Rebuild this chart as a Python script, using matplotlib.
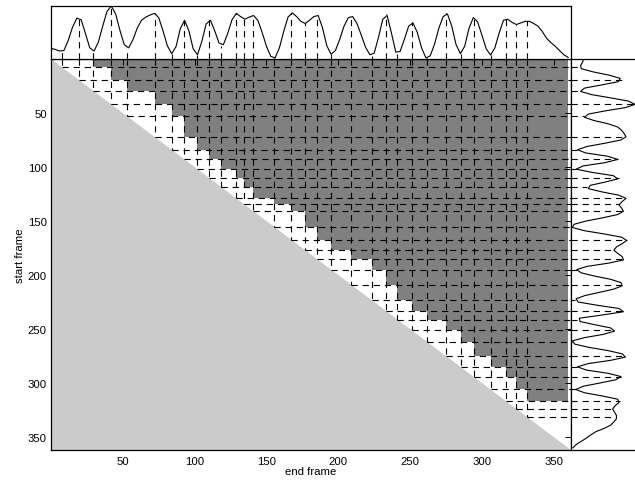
import numpy as np
import matplotlib
matplotlib.use('Agg')
import matplotlib.pyplot as plt
from matplotlib.colors import ListedColormap

plt.rcParams['font.family'] = ['Liberation Sans', 'DejaVu Sans']
plt.rcParams['font.size'] = 8.2
plt.rcParams['lines.scale_dashes'] = False

# novelty curve, sampled every 3 frames (0..360)
frames = np.arange(0, 361, 3)
novelty = [0.20, 0.18, 0.15, 0.16, 0.35, 0.60, 0.77, 0.74, 0.48, 0.21,
           0.15, 0.32, 0.62, 0.90, 1.00, 0.85, 0.54, 0.27, 0.21, 0.36,
           0.58, 0.73, 0.79, 0.83, 0.86, 0.78, 0.53, 0.25, 0.10, 0.23,
           0.57, 0.73, 0.53, 0.19, 0.08, 0.33, 0.66, 0.73, 0.53, 0.30,
           0.27, 0.48, 0.74, 0.86, 0.80, 0.75, 0.79, 0.82, 0.73, 0.50,
           0.24, 0.05, 0.02, 0.21, 0.52, 0.79, 0.87, 0.80, 0.71, 0.67,
           0.73, 0.80, 0.82, 0.59, 0.25, 0.09, 0.16, 0.37, 0.62, 0.78,
           0.80, 0.67, 0.45, 0.22, 0.08, 0.11, 0.41, 0.75, 0.82, 0.49,
           0.13, 0.14, 0.37, 0.62, 0.68, 0.50, 0.21, 0.02, 0.06, 0.28,
           0.58, 0.80, 0.85, 0.62, 0.27, 0.10, 0.24, 0.58, 0.78, 0.70,
           0.45, 0.19, 0.075, 0.21, 0.49, 0.73, 0.75, 0.69, 0.65, 0.68,
           0.71, 0.71, 0.67, 0.62, 0.52, 0.39, 0.31, 0.24, 0.16, 0.08, 0.03]

# candidate boundaries (peaks and valleys) and the curve value there
bounds = [7.6, 19.2, 29.2, 41.7, 53.2, 72.5, 84.5, 92.8, 101.4, 110, 118.7,
          129, 134.7, 140.8, 155.1, 167.4, 177.1, 185.2, 195.1, 208.8, 223.4,
          233.1, 241.2, 251.2, 262, 275.2, 285.2, 294.4, 306, 316.5, 323.8, 331.5]
stem_h = [0.14, 0.79, 0.14, 1.0, 0.20, 0.86, 0.10, 0.73, 0.075, 0.75, 0.25,
          0.86, 0.75, 0.82, 0.01, 0.875, 0.67, 0.82, 0.09, 0.81, 0.06,
          0.84, 0.09, 0.69, 0.01, 0.86, 0.10, 0.78, 0.075, 0.76, 0.65, 0.71]

# first admissible end segment for each start segment (dark area)
first_dark = [3, 4, 5, 6, 7, 8, 9, 10, 11, 12, 13, 14, 15, 16, 17,
              18, 19, 20, 21, 22, 23, 24, 25, 26, 27, 28, 29, 30, 31, 32]

n_frames = 360
lim = 362
dash = (0, (4.5, 3.5))
dark = '#808080'
light = '#cbcbcb'

edges = np.array([0] + bounds + [n_frames])
nseg = len(edges) - 1
C = np.full((nseg, nseg), np.nan)
for i, c in enumerate(first_dark):
    C[i, c:] = 1

fig = plt.figure(figsize=(6.35, 4.81), dpi=100)
ax = fig.add_axes([0.0803, 0.0624, 0.8189, 0.8129])
ax_t = fig.add_axes([0.0803, 0.8753, 0.8189, 0.1102])
ax_r = fig.add_axes([0.8992, 0.0624, 0.1008, 0.8129])

# main panel
ax.pcolormesh(edges, edges, C, cmap=ListedColormap([dark]), vmin=0, vmax=1)
ax.fill([0, 0, lim], [0, lim, lim], color=light, lw=0, zorder=2)
ax.vlines(bounds, 0, bounds, colors='k', linestyles=dash, lw=0.8, zorder=3)
ax.hlines(bounds, bounds, lim, colors='k', linestyles=dash, lw=0.8, zorder=3)
ax.set_xlim(0, lim)
ax.set_ylim(lim, 0)
ax.set_xticks([50, 100, 150, 200, 250, 300, 350])
ax.set_yticks([50, 100, 150, 200, 250, 300, 350])
ax.tick_params(axis='x', direction='in', top=True, length=4, width=0.7, pad=4)
ax.tick_params(axis='y', direction='in', right=True, length=4, width=0.7, pad=3)
ax.set_xlabel('end frame', labelpad=0)
ax.set_ylabel('start frame', labelpad=2)
for s in ax.spines.values():
    s.set_linewidth(0.9)
    s.set_zorder(5)

# top panel
ax_t.plot(frames, novelty, color='k', lw=0.8, solid_joinstyle='round')
ax_t.vlines(bounds, 0, stem_h, colors='k', linestyles=dash, lw=0.8)
ax_t.set_xlim(0, lim)
ax_t.set_ylim(0, 1.0)
ax_t.set_xticks([])
ax_t.set_yticks([])
for s in ax_t.spines.values():
    s.set_linewidth(0.9)

# right panel
ax_r.plot(novelty, frames, color='k', lw=0.8, solid_joinstyle='round')
ax_r.hlines(bounds, 0, stem_h, colors='k', linestyles=dash, lw=0.8)
ax_r.set_ylim(lim, 0)
ax_r.set_xlim(0, 1.0)
ax_r.set_xticks([])
ax_r.set_yticks([])
ax_r.spines['right'].set_visible(False)
for s in ax_r.spines.values():
    s.set_linewidth(0.9)

fig.savefig('out.png', dpi=100)
